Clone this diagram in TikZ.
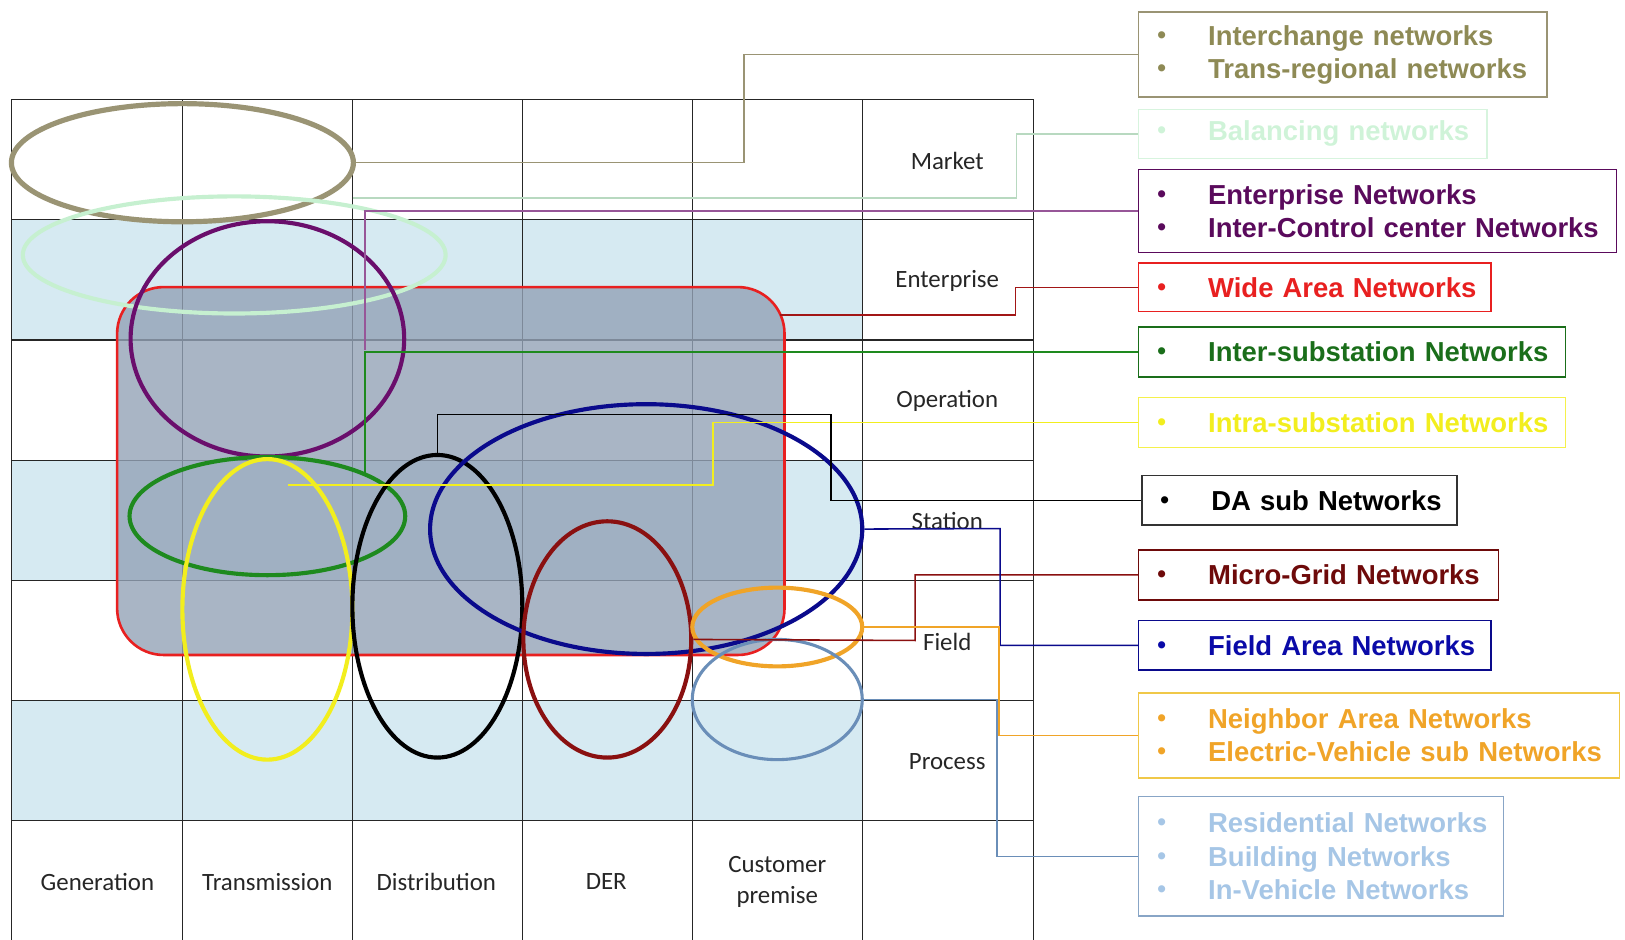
\documentclass[tikz,border=0pt]{standalone}
\usepackage{fontspec}
\newfontfamily\arialfont{Liberation Sans Bold}
\newfontfamily\calfont{Carlito}
\usetikzlibrary{shapes.geometric}

\definecolor{khaki}{HTML}{9A9474}
\definecolor{khakitext}{HTML}{8E8A55}
\definecolor{mint}{HTML}{C6F0D0}
\definecolor{minttext}{HTML}{CFF3D8}
\definecolor{plum}{HTML}{6A0E6C}
\definecolor{plumtext}{HTML}{5A0A5C}
\definecolor{wanred}{HTML}{E82020}
\definecolor{subgreen}{HTML}{1E8A1E}
\definecolor{subgreentext}{HTML}{1A6E1A}
\definecolor{lemon}{HTML}{F2EE1E}
\definecolor{maroon}{HTML}{8A1010}
\definecolor{maroontext}{HTML}{6E0A0A}
\definecolor{navy}{HTML}{0A0A8C}
\definecolor{navytext}{HTML}{0A0AA8}
\definecolor{amber}{HTML}{F0A428}
\definecolor{amberedge}{HTML}{F0C848}
\definecolor{steel}{HTML}{6A8EB8}
\definecolor{steeltext}{HTML}{A6C6E6}
\definecolor{band}{HTML}{D6EAF2}
\definecolor{wanfill}{HTML}{93A2B6}

\newcommand{\nbul}{\hspace*{18pt}\makebox[49pt][l]{\raisebox{2pt}{\fontsize{24}{24}\selectfont •}}}

\begin{document}
\begin{tikzpicture}[x=1pt, y=-1pt,
    ring/.style={ellipse, draw=#1, line width=4pt, inner sep=0pt},
    netbox/.style 2 args={draw=#1, text=#2, line width=1.5pt, anchor=north west,
      inner xsep=0pt, inner ysep=0pt, align=left,
      font=\arialfont\fontsize{26.5}{32}\selectfont},
    link/.style={draw=#1, line width=1.5pt},
    layer/.style={font=\calfont\fontsize{24}{29}\selectfont, text=black!85, align=center}]

    \useasboundingbox (0,0) rectangle (1568,907);

    % light rows
    \fill[band] (11,212) rectangle (832,328);
    \fill[band] (11,444) rectangle (832,560);
    \fill[band] (11,676) rectangle (832,792);

    % grid
    \draw[black!85, line width=1.2pt] (11,96) -- (997,96) (11,212) -- (997,212) (11,328) -- (997,328)
        (11,444) -- (997,444) (11,560) -- (997,560) (11,676) -- (997,676) (11,792) -- (997,792);
    \draw[black!85, line width=1.2pt] (11,96) -- (11,907) (176,96) -- (176,907) (340,96) -- (340,907)
        (504,96) -- (504,907) (668,96) -- (668,907) (832,96) -- (832,907) (997,96) -- (997,907);

    % wide area
    \node[draw=wanred, fill=wanfill, fill opacity=0.8, line width=2.5pt, rounded corners=45pt,
        minimum width=644, minimum height=355, inner sep=0pt] (wanArea) at (435,454.5) {};

    % networks
    \node[ring=khaki, line width=5pt, minimum width=330, minimum height=114] (interRing) at (176,157) {};
    \node[ring=mint, minimum width=408, minimum height=113] (balRing) at (226,246) {};
    \node[ring=plum, minimum width=264, minimum height=227] (entRing) at (258,327) {};
    \node[ring=subgreen, minimum width=266, minimum height=114] (interSubRing) at (258,498) {};
    \node[ring=lemon, minimum width=164, minimum height=290] (intraSubRing) at (258,588) {};
    \node[ring=black, minimum width=164, minimum height=292] (daRing) at (422,585) {};
    \node[ring=navy, minimum width=417, minimum height=241] (fanRing) at (623.5,510.5) {};
    \node[ring=maroon, minimum width=162, minimum height=228] (microRing) at (586,617) {};
    \node[ring=amber, minimum width=164, minimum height=76] (nanRing) at (750,605) {};
    \node[ring=steel, line width=3pt, minimum width=164, minimum height=116] (resRing) at (750,675) {};

    % layers and domains
    \draw (914,155) node[layer] (market) {Market};
    \draw (914,271) node[layer] (enterprise) {Enterprise};
    \draw (914,387) node[layer] (operation) {Operation};
    \draw (914,503) node[layer] (station) {Station};
    \draw (914,619) node[layer] (field) {Field};
    \draw (914,735) node[layer] (process) {Process};
    \draw (94,851) node[layer] (generation) {Generation};
    \draw (258,851) node[layer] (transmission) {Transmission};
    \draw (421,851) node[layer] (distribution) {Distribution};
    \draw (585,851) node[layer] (der) {DER};
    \draw (750,851) node[layer] (customer) {Customer\\premise};

    % legend boxes
    \node[netbox={khaki}{khakitext}, text width=394, minimum height=82] (interBox) at (1098,11)
        {\nbul Interchange networks\\ \nbul Trans-regional networks};
    \node[netbox={mint!70}{minttext}, text width=336, minimum height=47] (balBox) at (1098,105)
        {\nbul Balancing networks};
    \node[netbox={plumtext}{plumtext}, text width=461, minimum height=80] (entBox) at (1098,163)
        {\nbul Enterprise Networks\\ \nbul Inter-Control center Networks};
    \node[netbox={wanred}{wanred}, text width=340, minimum height=47] (wanBox) at (1098,253)
        {\nbul Wide Area Networks};
    \node[netbox={subgreentext}{subgreentext}, text width=412, minimum height=48] (interSubBox) at (1098,315)
        {\nbul Inter-substation Networks};
    \node[netbox={lemon!80}{lemon}, text width=412, minimum height=48] (intraSubBox) at (1098,383)
        {\nbul Intra-substation Networks};
    \node[netbox={black!80}{black}, text width=304, minimum height=48] (daBox) at (1101,458)
        {\nbul DA sub Networks};
    \node[netbox={maroontext}{maroontext}, text width=347, minimum height=48] (microBox) at (1098,530)
        {\nbul Micro-Grid Networks};
    \node[netbox={navy}{navytext}, text width=340, minimum height=48] (fanBox) at (1098,598)
        {\nbul Field Area Networks};
    \node[netbox={amberedge}{amber}, text width=464, minimum height=82] (nanBox) at (1098,668)
        {\nbul Neighbor Area Networks\\ \nbul Electric-Vehicle sub Networks};
    \node[netbox={steel!80}{steeltext}, text width=352, minimum height=115] (resBox) at (1098,768)
        {\nbul Residential Networks\\ \nbul Building Networks\\ \nbul In-Vehicle Networks};

    % taps
    \coordinate (balTap) at (341,191);
    \coordinate (entTap) at (352,338);
    \coordinate (wanTap) at (753,304);
    \coordinate (interSubTap) at (352,457);
    \coordinate (intraSubTap) at (278,468);

    \draw[link=khaki] (interRing.east) -- (718,157) |- (interBox.west);
    \draw[link=mint!80!gray] (balTap) -- (981,191) |- (balBox.west);
    \draw[link=plum!70] (entTap) |- (entBox.west);
    \draw[link=wanred!70!black] (wanTap) -- (980,304) |- (wanBox.west);
    \draw[link=subgreen] (interSubTap) |- (interSubBox.west);
    \draw[link=lemon] (intraSubTap) -- (688,468) |- (intraSubBox.west);
    \draw[link=black] (daRing.north) |- (802,400) |- (daBox.west);
    \draw[link=maroon] (microRing.east) -- (883,618) |- (microBox.west);
    \draw[link=navy] (fanRing.east) -- (965,510) |- (fanBox.west);
    \draw[link=amber] (nanRing.east) -- (964,605) |- (nanBox.west);
    \draw[link=steel] (resRing.east) -- (962,675) |- (resBox.west);

\end{tikzpicture}
\end{document}
